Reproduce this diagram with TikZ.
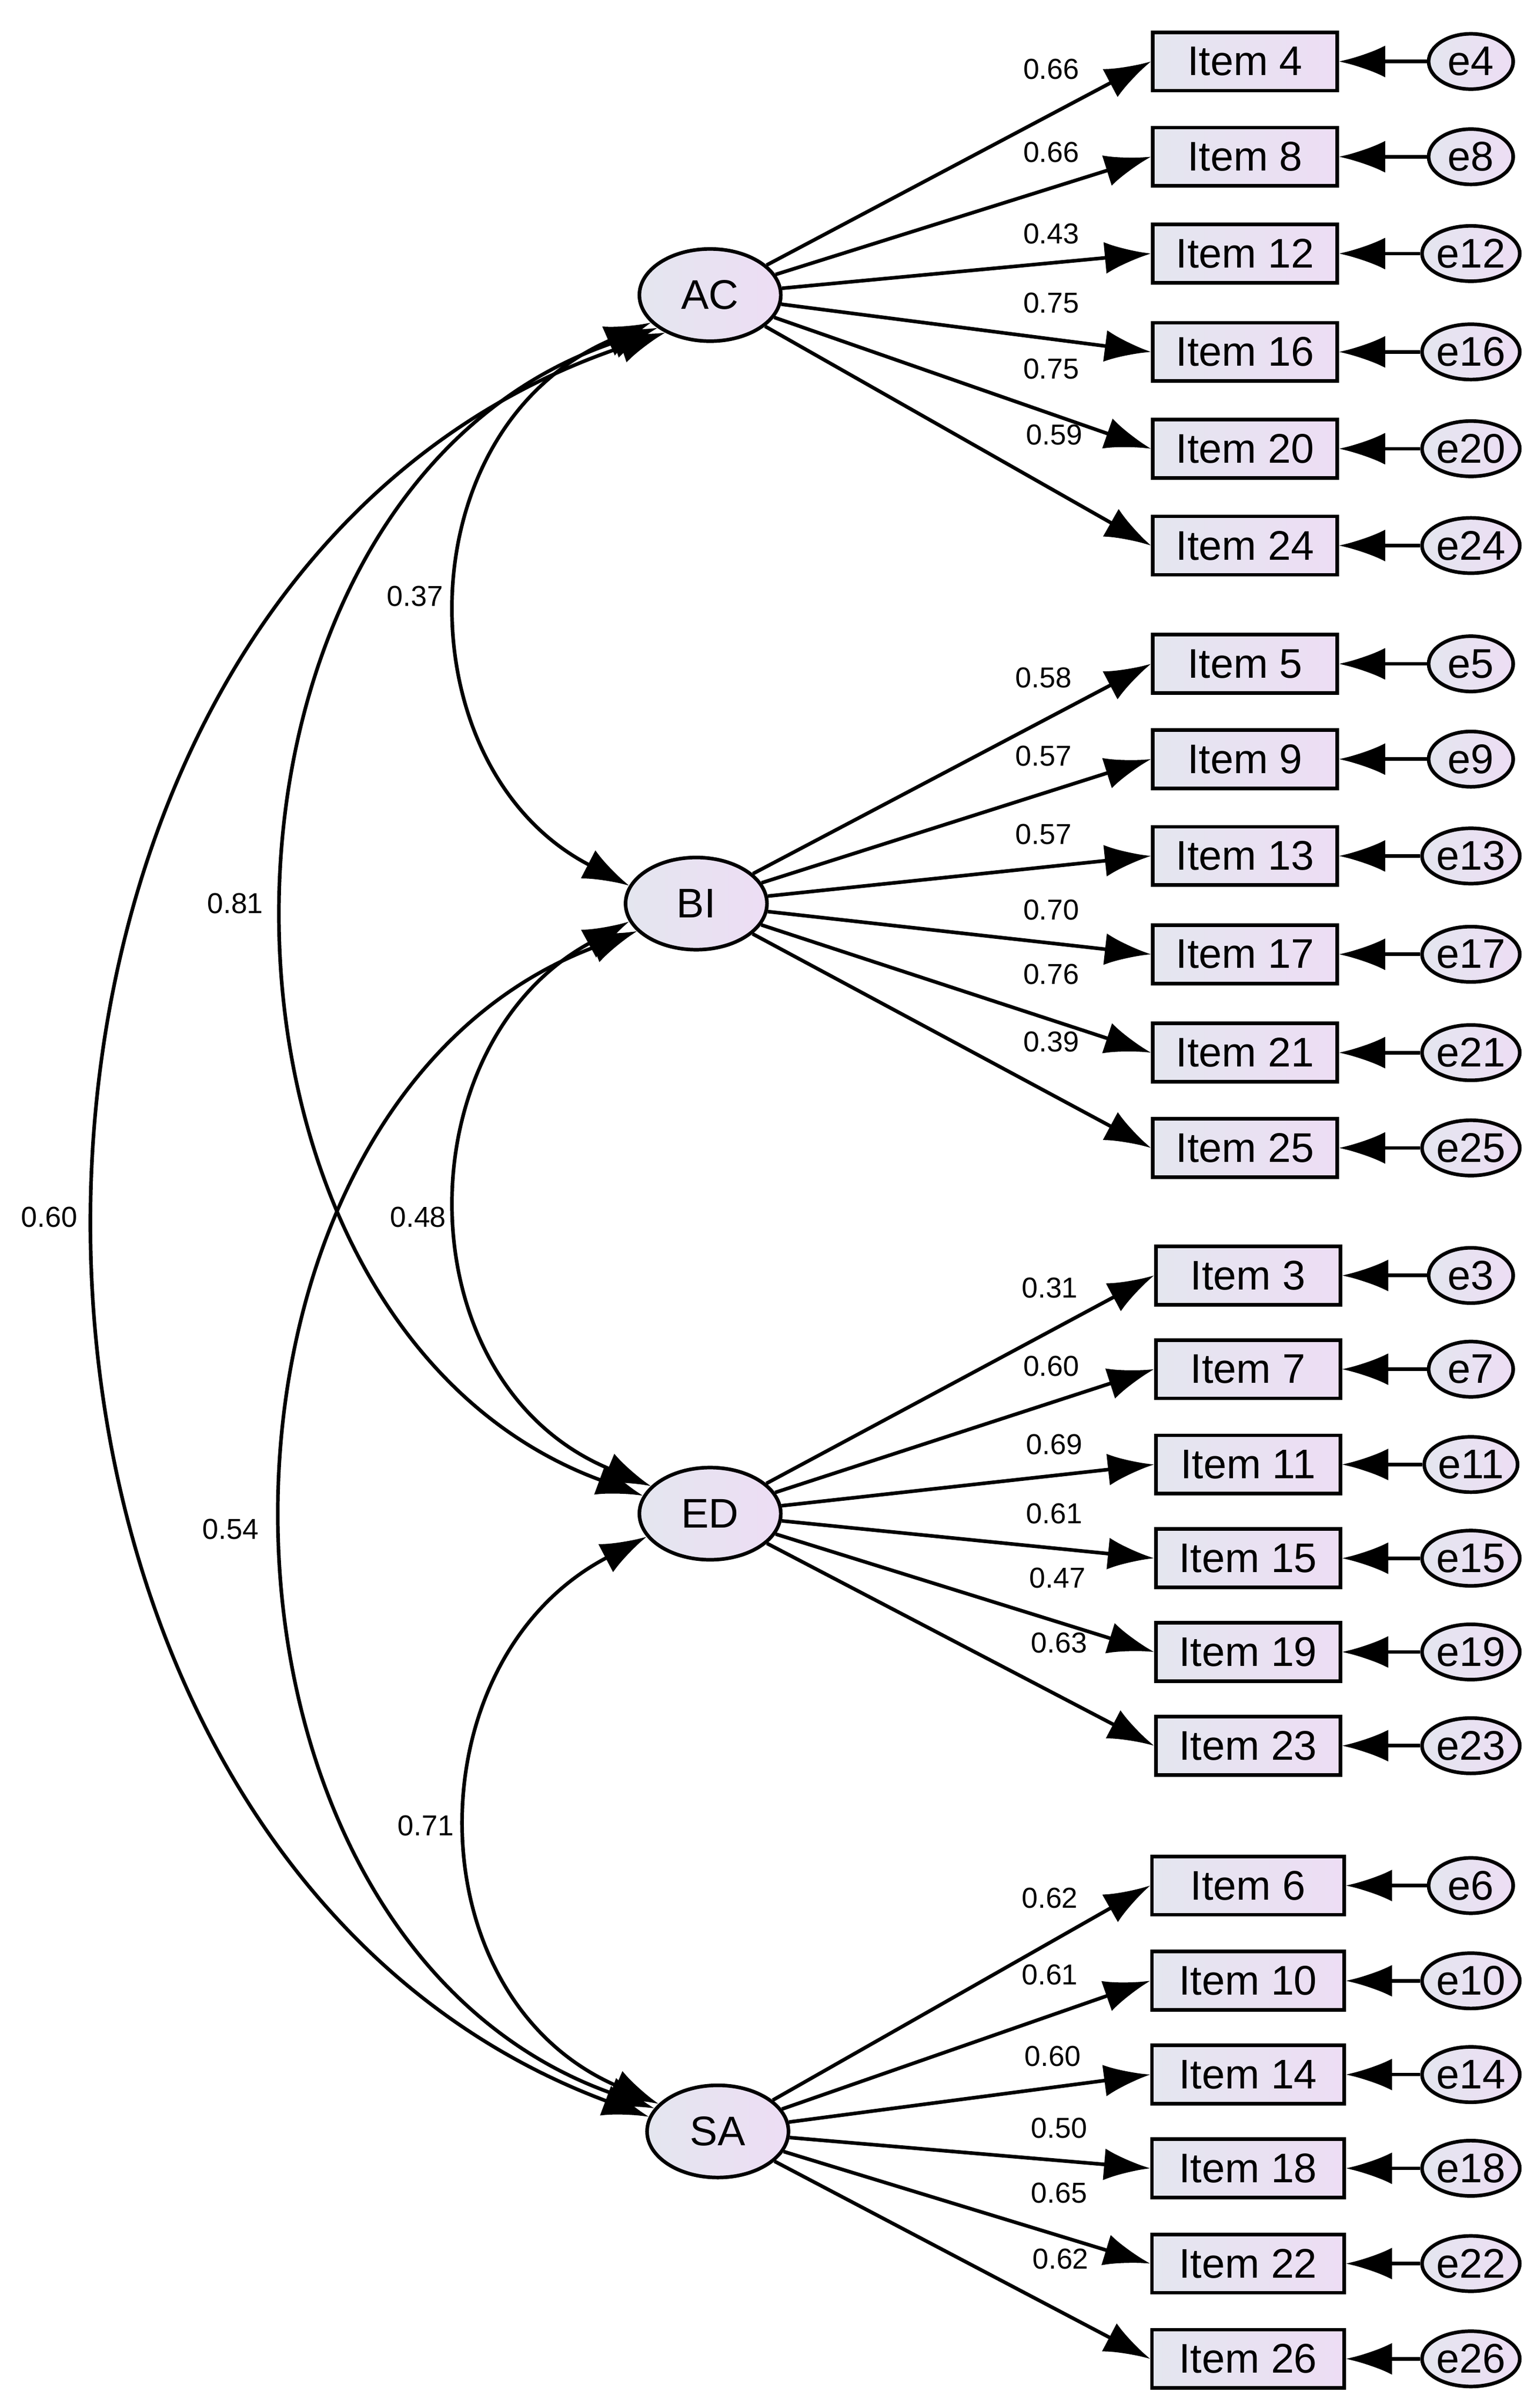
\documentclass[tikz,border=0pt]{standalone}
\usepackage{fontspec}
\setmainfont{Liberation Sans}
\usetikzlibrary{arrows.meta,shapes.geometric}
\definecolor{fa}{HTML}{E4E6EF}
\definecolor{fb}{HTML}{EDDDF4}
\begin{document}
\begin{tikzpicture}[x=0.03cm,y=-0.03cm,
  lat/.style={ellipse,draw,line width=2pt,left color=fa,right color=fb,minimum width=2.76cm,minimum height=1.8cm,inner sep=0pt,font=\fontsize{23}{25}\selectfont},
  itm/.style={rectangle,draw,line width=2pt,left color=fa,right color=fb,minimum width=3.6cm,minimum height=1.14cm,inner sep=0pt,font=\fontsize{23}{25}\selectfont},
  err/.style={ellipse,draw,line width=2pt,left color=fa,right color=fb,minimum width=1.65cm,minimum height=1.08cm,inner sep=0pt,font=\fontsize{23}{25}\selectfont},
  arr/.style={line width=2pt,-{Latex[length=0.9cm,width=0.62cm]}},
  cov/.style={line width=2pt,{Latex[length=0.9cm,width=0.62cm]}-{Latex[length=0.9cm,width=0.62cm]}},
  lab/.style={font=\fontsize{16}{18}\selectfont}]
\useasboundingbox (0,0) rectangle (1000,1567);
\node[lat] (AC) at (462,192) {AC};
\node[lat] (BI) at (453,588) {BI};
\node[lat] (ED) at (462,985) {ED};
\node[lat] (SA) at (467,1387) {SA};
\foreach \n/\y/\x/\L in {4/40/810/AC,8/102/810/AC,12/165/810/AC,16/229/810/AC,20/292/810/AC,24/355/810/AC,
  5/432/810/BI,9/494/810/BI,13/557/810/BI,17/621/810/BI,21/685/810/BI,25/747/810/BI,
  3/830/812/ED,7/891/812/ED,11/953/812/ED,15/1014/812/ED,19/1075/812/ED,23/1136/812/ED}{
  \node[itm] (i\n) at (\x,\y) {Item \n};
  \node[err] (e\n) at (957,\y) {e\n};
  \draw[arr] (e\n) -- (i\n);
  \draw[arr] (\L) -- (i\n.west);
}
\foreach \n/\y in {6/1227,10/1289,14/1350,18/1411,22/1473,26/1535}{
  \node[itm,minimum width=3.75cm] (i\n) at (812,\y) {Item \n};
  \node[err] (e\n) at (957,\y) {e\n};
  \draw[arr] (e\n) -- (i\n);
  \draw[arr] (SA) -- (i\n.west);
}
\foreach \t/\x/\y in {0.66/684/45,0.66/684/99,0.43/684/152,0.75/684/197,0.75/684/240,0.59/686/283,
 0.58/679/441,0.57/679/492,0.57/679/543,0.70/684/592,0.76/684/634,0.39/684/678,
 0.31/683/838,0.60/684/889,0.69/686/940,0.61/686/985,0.47/688/1027,0.63/689/1069,
 0.62/683/1235,0.61/683/1285,0.60/685/1338,0.50/689/1385,0.65/689/1427,0.62/690/1470}
 \node[lab] at (\x,\y) {\t};
% covariances
\draw[cov] (AC.205) .. controls (262,280) and (262,500) .. (BI.165);
\draw[cov] (AC.212) .. controls (110,320) and (110,860) .. (ED.165);
\draw[cov] (AC.220) .. controls (-55,380) and (-55,1200) .. (SA.168);
\draw[cov] (BI.195) .. controls (262,680) and (262,900) .. (ED.155);
\draw[cov] (BI.205) .. controls (110,720) and (110,1260) .. (SA.160);
\draw[cov] (ED.200) .. controls (268,1080) and (268,1300) .. (SA.155);
\node[lab] at (270,388) {0.37};
\node[lab] at (153,588) {0.81};
\node[lab] at (32,792) {0.60};
\node[lab] at (272,792) {0.48};
\node[lab] at (150,995) {0.54};
\node[lab] at (277,1188) {0.71};
\end{tikzpicture}
\end{document}
